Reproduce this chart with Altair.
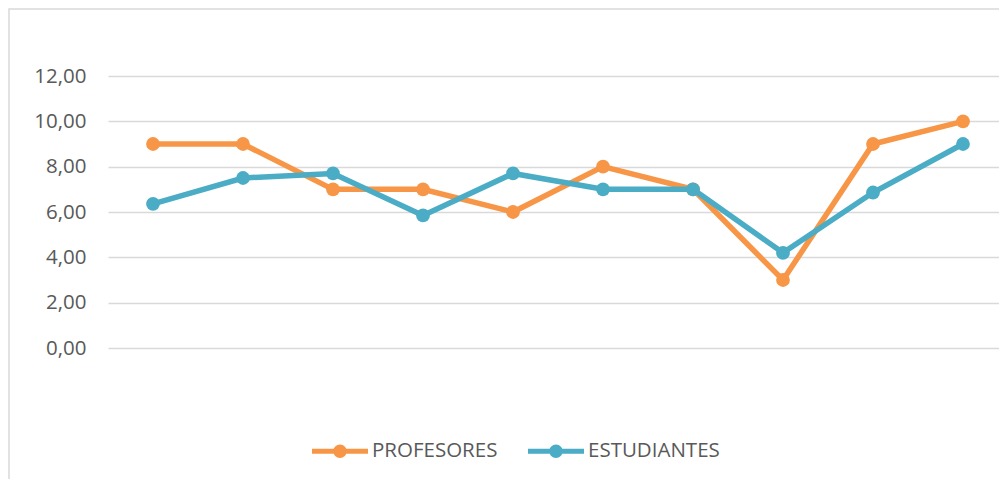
import altair as alt
import pandas as pd

categorias = [1, 2, 3, 4, 5, 6, 7, 8, 9, 10]
profesores = [9, 9, 7, 7, 6, 8, 7, 3, 9, 10]
estudiantes = [6.36, 7.5, 7.7, 5.85, 7.7, 7, 7, 4.2, 6.86, 9]
series = ["PROFESORES", "ESTUDIANTES"]
colores = ["#F79646", "#4BACC6"]
y_ticks = [0, 2, 4, 6, 8, 10, 12]

rows = []
for c, p, e in zip(categorias, profesores, estudiantes):
    rows.append({"idx": c, "valor": p, "serie": series[0], "linea": series[0]})
    rows.append({"idx": c, "valor": e, "serie": series[1], "linea": series[1]})
df = pd.DataFrame(rows)

FONT = "Open Sans"
GREY = "#595959"

x = alt.X("idx:Q", scale=alt.Scale(domain=[0.5, 10.5], range=[0, 900]), axis=None)
y = alt.Y(
    "valor:Q",
    scale=alt.Scale(domain=[0, 12], nice=False),
    axis=alt.Axis(
        values=y_ticks,
        labelExpr="replace(format(datum.value, '.2f'), '.', ',')",
        grid=True,
        gridColor="#D9D9D9",
        gridWidth=1.3,
        domain=False,
        ticks=False,
        labelPadding=22,
        labelFontSize=20.5,
        labelColor=GREY,
        labelFont=FONT,
        title=None,
    ),
)

fill_scale = alt.Scale(domain=series, range=colores)
# reversed order so that its (hidden) legend is not merged with the fill legend
stroke_scale = alt.Scale(domain=series[::-1], range=colores[::-1])
symbol_path = ("M-1,-0.09L1,-0.09L1,0.09L-1,0.09Z "
               "M0.24,0A0.24,0.24,0,1,1,-0.24,0A0.24,0.24,0,1,1,0.24,0Z")
legend = alt.Legend(
    orient="none",
    legendX=204,
    legendY=347,
    direction="horizontal",
    title=None,
    symbolType=symbol_path,
    symbolSize=3136,
    symbolStrokeWidth=0,
    symbolOpacity=1,
    labelFontSize=20.5,
    labelColor=GREY,
    labelFont=FONT,
    labelOffset=4,
    columnPadding=30,
)

frame = alt.Chart(pd.DataFrame({"a": [0]})).mark_rect(
    fill=None, stroke="#D9D9D9", strokeWidth=1.5
).encode(
    x=alt.value(-99), x2=alt.value(950), y=alt.value(-67), y2=alt.value(460)
)

layers = [frame]
for s in series:
    base = alt.Chart(df).transform_filter(alt.datum.serie == s)
    layers.append(
        base.mark_line(strokeWidth=5.5).encode(
            x=x, y=y, stroke=alt.Stroke("linea:N", scale=stroke_scale, legend=None)
        )
    )
    layers.append(
        base.mark_circle(size=190, opacity=1).encode(
            x=x, y=y, fill=alt.Fill("serie:N", scale=fill_scale, legend=legend)
        )
    )

chart = alt.layer(*layers).properties(
    width=891,
    height=272,
    autosize=alt.AutoSizeParams(type="none"),
    padding={"left": 100, "top": 68, "right": 0, "bottom": 131},
    background="white",
).configure_view(stroke=None)

chart.save("out.html", embed_options={"renderer": "svg", "actions": False})
